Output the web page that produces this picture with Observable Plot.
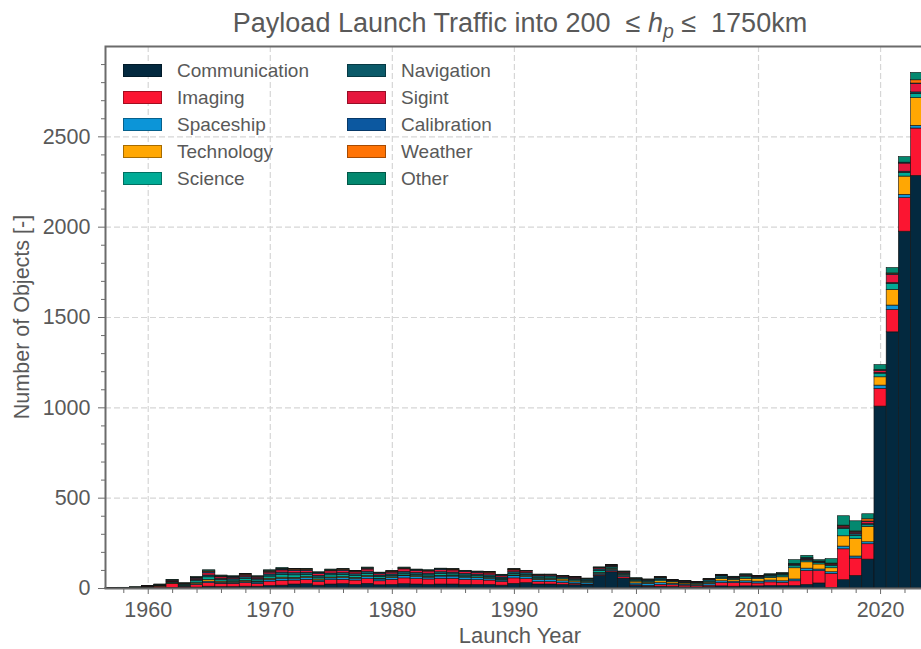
<!DOCTYPE html>
<html><head><meta charset="utf-8">
<script src="https://cdn.jsdelivr.net/npm/d3@7"></script>
<script src="https://cdn.jsdelivr.net/npm/@observablehq/plot@0.6"></script>
<style>
html,body{margin:0;padding:0;overflow:hidden;background:#fff;}
#wrap{position:relative;width:921px;height:649px;overflow:hidden;font-family:"Liberation Sans",Arial,sans-serif;color:#595959;}
#chart{position:absolute;left:0;top:0;max-width:none !important;width:940px;height:649px;}
.title{position:absolute;top:7px;left:105px;width:830px;text-align:center;font-size:27px;line-height:32px;white-space:nowrap;}
.title sub{font-size:0.72em;vertical-align:-0.3em;line-height:0;}
.xlabel{position:absolute;top:623px;left:105px;width:830px;text-align:center;font-size:22px;line-height:26px;}
.ylabel{position:absolute;left:22px;top:317px;transform:translate(-50%,-50%) rotate(-90deg);font-size:21.5px;white-space:nowrap;line-height:26px;}
.leg{position:absolute;font-size:19px;line-height:22px;white-space:nowrap;}
.sw{position:absolute;width:39px;height:13px;box-sizing:border-box;border:1px solid rgba(0,0,0,0.35);}
</style></head>
<body><div id="wrap"></div>
<script>
const years = [1957,1958,1959,1960,1961,1962,1963,1964,1965,1966,
1967,1968,1969,1970,1971,1972,1973,1974,1975,1976,
1977,1978,1979,1980,1981,1982,1983,1984,1985,1986,
1987,1988,1989,1990,1991,1992,1993,1994,1995,1996,
1997,1998,1999,2000,2001,2002,2003,2004,2005,2006,
2007,2008,2009,2010,2011,2012,2013,2014,2015,2016,
2017,2018,2019,2020,2021,2022,2023];

const communication = [0,0,0,1,2,3,3,5,10,8, 8,10,10,14,16,22,24,16,22,24, 20,26,18,20,24,22,20,22,22,20, 20,20,16,26,30,22,22,20,18,18, 70,90,55,14,10,10,8,6,6,8, 12,10,12,12,14,14,14,20,28,3, 46,70,160,1007,1418,1975,2284];
const imaging = [0,0,1,3,8,22,6,15,20,18, 18,20,15,24,26,22,24,20,24,24, 24,26,22,28,32,30,30,32,32,28, 26,24,20,30,22,14,14,10,8,4, 4,6,8,4,4,10,10,10,8,8, 18,20,20,16,20,18,26,77,68,78, 171,96,85,98,124,186,262];
const spaceship = [0,0,0,0,0,1,2,4,8,6, 6,6,8,10,12,10,10,8,10,10, 10,12,10,10,12,12,10,12,12,12, 12,10,8,12,12,12,12,10,8,10, 8,8,8,10,12,10,8,6,6,10, 10,8,8,10,10,8,10,13,9,9, 15,11,11,18,24,18,15];
const technology = [0,1,1,1,2,3,3,6,10,6, 4,6,4,6,6,5,5,6,5,5, 5,5,4,4,4,4,4,4,4,3, 3,3,3,4,4,4,5,10,6,4, 4,4,4,10,6,10,8,6,4,6, 12,10,14,14,14,22,62,35,28,22, 57,96,85,46,87,101,153];
const science = [1,2,3,3,3,5,6,10,14,8, 8,12,8,12,14,14,12,10,12,12, 10,12,10,8,10,8,8,10,8,8, 8,8,6,8,8,8,8,6,6,6, 10,8,6,6,6,8,5,4,4,6, 8,6,8,6,8,10,11,9,9,12, 41,18,9,20,33,20,24];
const navigation = [0,0,0,2,2,3,3,8,10,8, 8,9,8,12,14,12,12,10,10,10, 10,12,8,8,10,10,10,10,10,10, 8,8,8,10,10,8,8,6,8,8, 10,5,5,6,6,8,4,5,4,8, 8,5,8,6,6,6,7,5,2,6, 5,11,7,4,5,7,8];
const sigint = [0,0,0,1,2,5,3,6,12,8, 7,8,7,10,12,12,10,10,12,12, 10,12,8,10,14,12,12,12,12,10, 10,10,8,10,8,5,5,5,6,2, 6,4,4,3,3,3,1,2,1,2, 3,2,3,2,2,2,2,4,2,4, 8,7,11,10,45,45,46];
const calibration = [0,0,0,0,1,2,1,3,6,4, 3,4,3,5,5,5,5,4,4,5, 4,5,4,4,4,3,3,4,3,3, 3,3,3,3,2,2,1,1,1,1, 2,2,2,1,1,1,1,1,0,1, 1,1,1,1,1,1,2,3,3,2, 3,5,3,3,5,5,3];
const weather = [0,0,1,1,1,2,1,3,5,3, 3,3,2,4,4,4,3,3,3,3, 2,3,2,2,3,2,2,2,2,2, 2,4,2,2,1,1,1,1,1,1, 1,1,1,1,1,1,0,1,1,1, 1,1,1,1,1,1,1,2,1,2, 2,2,12,3,3,0,18];
const other = [1,1,1,1,1,2,1,3,6,3, 3,3,3,4,5,3,4,3,3,3, 2,3,2,2,3,2,2,2,2,2, 2,2,2,2,1,1,1,1,1,1, 2,1,1,2,1,2,1,1,1,2, 3,2,4,2,3,3,22,13,7,25, 52,56,28,28,30,31,41];

const categories = ["Communication","Imaging","Spaceship","Technology","Science","Navigation","Sigint","Calibration","Weather","Other"];
const colors = ["#03293f","#fb1531","#0c95d8","#ffa703","#00ab96","#0b5a69","#e6173d","#0c58a0","#ff7305","#03886f"];
const seriesList = [communication, imaging, spaceship, technology, science, navigation, sigint, calibration, weather, other];

const xMajor = [1960,1970,1980,1990,2000,2010,2020];
const xMinor = [1958,1962,1964,1966,1968,1972,1974,1976,1978,1982,1984,1986,1988,1992,1994,1996,1998,2002,2004,2006,2008,2012,2014,2016,2018,2022,2024];
const yMajor = [0,500,1000,1500,2000,2500];
const yMinor = [100,200,300,400,600,700,800,900,1100,1200,1300,1400,1600,1700,1800,1900,2100,2200,2300,2400,2600,2700,2800,2900];

// stacked rows built from the arrays
const rows = [];
years.forEach((yr, i) => {
  let acc = 0;
  seriesList.forEach((s, k) => {
    const v = s[i];
    if (v > 0) rows.push({year: yr, cat: categories[k], y1: acc, y2: acc + v});
    acc += v;
  });
});

const font = '"Liberation Sans", Arial, sans-serif';
const chart = Plot.plot({
  width: 940, height: 649,
  marginLeft: 105, marginRight: 5, marginTop: 46, marginBottom: 61,
  x: {domain: [1956.5, 2024.5], axis: null},
  y: {domain: [0, 3000], axis: null},
  color: {domain: categories, range: colors},
  style: {fontFamily: font, fontSize: "21.5px", color: "#595959", background: "white", overflow: "visible", maxWidth: "none"},
  marks: [
    Plot.ruleX(xMajor, {stroke: "#d6d6d6", strokeWidth: 1.2, strokeDasharray: "6,3"}),
    Plot.ruleY(yMajor.slice(1), {stroke: "#d6d6d6", strokeWidth: 1.2, strokeDasharray: "6,3"}),
    Plot.rect(rows, {x1: d => d.year - 0.5, x2: d => d.year + 0.5, y1: "y1", y2: "y2", fill: "cat", stroke: "#111", strokeWidth: 0.6}),
    Plot.axisX(xMinor, {tickSize: 5, tickFormat: () => "", label: null, stroke: "#6b6b6b"}),
    Plot.axisX(xMajor, {tickSize: 6, tickPadding: 7, tickFormat: d => String(d), label: null, fontSize: 21.5, stroke: "#6b6b6b"}),
    Plot.axisY(yMinor, {tickSize: 4, tickFormat: () => "", label: null, stroke: "#6b6b6b"}),
    Plot.axisY(yMajor, {tickSize: 7, tickPadding: 8, tickFormat: d => String(d), label: null, fontSize: 21.5, stroke: "#6b6b6b"}),
    Plot.frame({stroke: "#6b6b6b", strokeWidth: 2})
  ]
});
chart.id = "chart";
chart.style.maxWidth = "none";
const wrap = document.getElementById("wrap");
wrap.appendChild(chart);

const title = document.createElement("div");
title.className = "title";
title.innerHTML = 'Payload Launch Traffic into 200 &nbsp;≤ <i>h</i><sub><i>p</i></sub> ≤ &nbsp;1750km';
wrap.appendChild(title);

const xl = document.createElement("div");
xl.className = "xlabel"; xl.textContent = "Launch Year"; wrap.appendChild(xl);
const yl = document.createElement("div");
yl.className = "ylabel"; yl.textContent = "Number of Objects [-]"; wrap.appendChild(yl);

categories.forEach((c, k) => {
  const col = k < 5 ? 0 : 1, row = k % 5;
  const cy = 70.5 + row * 27;
  const sw = document.createElement("div");
  sw.className = "sw";
  sw.style.left = (col ? 347 : 123) + "px";
  sw.style.top = (cy - 6.5) + "px";
  sw.style.background = colors[k];
  wrap.appendChild(sw);
  const t = document.createElement("div");
  t.className = "leg";
  t.style.left = (col ? 401 : 177) + "px";
  t.style.top = (cy - 11) + "px";
  t.textContent = c;
  wrap.appendChild(t);
});
</script>
</body></html>
